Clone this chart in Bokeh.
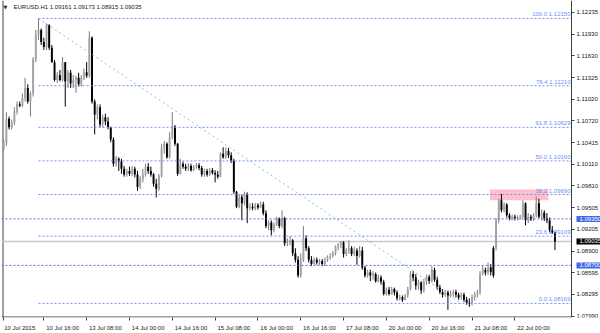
from bokeh.plotting import figure
from bokeh.models import Range1d, FixedTicker, Label, LinearAxis, PrintfTickFormatter
from bokeh.embed import file_html
from bokeh.resources import INLINE

symbol_title = "EURUSD.H1  1.09161 1.09173 1.08915 1.09035"

opens = [
1.1034, 1.1041, 1.1075, 1.1063, 1.1069, 1.1085, 1.1095, 1.1093, 1.1104, 1.1118,
1.1099, 1.1110, 1.1158, 1.1192, 1.1199, 1.1182, 1.1175, 1.1206, 1.1174, 1.1154,
1.1129, 1.1136, 1.1129, 1.1154, 1.1127, 1.1139, 1.1124, 1.1129, 1.1132, 1.1123,
1.1132, 1.1140, 1.1135, 1.1188, 1.1099, 1.1081, 1.1091, 1.1067, 1.1077, 1.1071,
1.1063, 1.1046, 1.1012, 1.1019, 1.1015, 1.1005, 1.0997, 1.1002, 1.0998, 1.1005,
1.0997, 1.0980, 1.0991, 1.0997, 1.1008, 1.1002, 1.0997, 1.0984, 1.0977, 1.0995,
1.1033, 1.1040, 1.1021, 1.1049, 1.1064, 1.1040, 1.0998, 1.1012, 1.1008, 1.1005,
1.1009, 1.1003, 1.1008, 1.1010, 1.1006, 1.0997, 1.1002, 1.0997, 1.1003, 1.0999,
1.0997, 1.0994, 1.1026, 1.1021, 1.1030, 1.1024, 1.1016, 1.0973, 1.0952, 1.0966,
1.0957, 1.0970, 1.0950, 1.0952, 1.0950, 1.0954, 1.0951, 1.0955, 1.0943, 1.0925,
1.0930, 1.0919, 1.0927, 1.0936, 1.0925, 1.0936, 1.0901, 1.0902, 1.0905, 1.0887,
1.0878, 1.0856, 1.0878, 1.0908, 1.0894, 1.0878, 1.0872, 1.0878, 1.0874, 1.0876,
1.0872, 1.0878, 1.0882, 1.0883, 1.0887, 1.0896, 1.0900, 1.0902, 1.0886, 1.0891,
1.0894, 1.0886, 1.0891, 1.0883, 1.0891, 1.0867, 1.0856, 1.0860, 1.0856, 1.0858,
1.0848, 1.0853, 1.0847, 1.0830, 1.0836, 1.0830, 1.0837, 1.0832, 1.0824, 1.0826,
1.0822, 1.0828, 1.0837, 1.0858, 1.0853, 1.0842, 1.0846, 1.0835, 1.0847, 1.0854,
1.0848, 1.0864, 1.0850, 1.0839, 1.0833, 1.0829, 1.0832, 1.0828, 1.0830, 1.0833,
1.0829, 1.0825, 1.0829, 1.0822, 1.0818, 1.0817, 1.0825, 1.0830, 1.0832, 1.0858,
1.0864, 1.0860, 1.0867, 1.0894, 1.0894, 1.0933, 1.0961, 1.0947, 1.0955, 1.0940,
1.0936, 1.0938, 1.0936, 1.0937, 1.0938, 1.0957, 1.0933, 1.0938, 1.0934, 1.0940,
1.0957, 1.0938, 1.0944, 1.0936, 1.0933, 1.0919, 1.09161]

highs = [
1.1046, 1.1084, 1.1078, 1.1074, 1.1091, 1.1099, 1.1099, 1.1110, 1.1132, 1.1123,
1.1113, 1.1161, 1.1199, 1.1215, 1.1201, 1.1188, 1.1208, 1.1207, 1.1178, 1.1157,
1.1140, 1.1143, 1.1161, 1.1154, 1.1143, 1.1143, 1.1136, 1.1135, 1.1139, 1.1136,
1.1145, 1.1154, 1.1197, 1.1190, 1.1102, 1.1095, 1.1095, 1.1081, 1.1082, 1.1077,
1.1064, 1.1049, 1.1023, 1.1021, 1.1019, 1.1009, 1.1005, 1.1008, 1.1009, 1.1008,
1.1002, 1.0995, 1.1005, 1.1012, 1.1013, 1.1008, 1.0999, 1.0991, 1.0998, 1.1040,
1.1044, 1.1042, 1.1056, 1.1084, 1.1066, 1.1041, 1.1019, 1.1015, 1.1012, 1.1013,
1.1012, 1.1010, 1.1013, 1.1013, 1.1009, 1.1005, 1.1005, 1.1006, 1.1006, 1.1003,
1.1002, 1.1028, 1.1035, 1.1035, 1.1034, 1.1028, 1.1019, 1.0974, 1.0969, 1.0969,
1.0973, 1.0972, 1.0957, 1.0957, 1.0957, 1.0957, 1.0959, 1.0959, 1.0947, 1.0933,
1.0933, 1.0930, 1.0938, 1.0937, 1.0947, 1.0938, 1.0908, 1.0911, 1.0907, 1.0894,
1.0883, 1.0887, 1.0925, 1.0912, 1.0897, 1.0883, 1.0881, 1.0881, 1.0879, 1.0879,
1.0881, 1.0884, 1.0887, 1.0890, 1.0898, 1.0901, 1.0904, 1.0904, 1.0894, 1.0905,
1.0897, 1.0896, 1.0894, 1.0897, 1.0896, 1.0869, 1.0864, 1.0864, 1.0862, 1.0860,
1.0857, 1.0856, 1.0850, 1.0839, 1.0840, 1.0840, 1.0839, 1.0835, 1.0829, 1.0828,
1.0830, 1.0840, 1.0862, 1.0862, 1.0858, 1.0850, 1.0848, 1.0851, 1.0857, 1.0857,
1.0869, 1.0867, 1.0854, 1.0843, 1.0837, 1.0836, 1.0835, 1.0835, 1.0836, 1.0836,
1.0832, 1.0832, 1.0832, 1.0826, 1.0824, 1.0829, 1.0833, 1.0836, 1.0862, 1.0869,
1.0867, 1.0874, 1.0872, 1.0897, 1.0936, 1.0963, 1.0970, 1.0958, 1.0957, 1.0943,
1.0941, 1.0941, 1.0940, 1.0941, 1.0961, 1.0958, 1.0943, 1.0941, 1.0943, 1.0966,
1.0963, 1.0948, 1.0947, 1.0943, 1.0937, 1.0925, 1.09173]

lows = [
1.1030, 1.1037, 1.1060, 1.1060, 1.1066, 1.1081, 1.1091, 1.1091, 1.1099, 1.1096,
1.1078, 1.1106, 1.1154, 1.1185, 1.1178, 1.1171, 1.1171, 1.1171, 1.1153, 1.1127,
1.1125, 1.1127, 1.1127, 1.1092, 1.1118, 1.1118, 1.1118, 1.1111, 1.1120, 1.1120,
1.1129, 1.1132, 1.1132, 1.1096, 1.1053, 1.1074, 1.1063, 1.1063, 1.1066, 1.1060,
1.1042, 1.1008, 1.1008, 1.1002, 1.0998, 1.0994, 1.0994, 1.0995, 1.0995, 1.0993,
1.0974, 1.0977, 1.0986, 1.0994, 1.0998, 1.0994, 1.0980, 1.0965, 1.0974, 1.0993,
1.1026, 1.1019, 1.1019, 1.1046, 1.1037, 1.0995, 1.0997, 1.1005, 1.1002, 1.1002,
1.1001, 1.1002, 1.1005, 1.1003, 1.0994, 1.0994, 1.0994, 1.0995, 1.0997, 1.0986,
1.0991, 1.0993, 1.1019, 1.1019, 1.1020, 1.1013, 1.0970, 1.0950, 1.0950, 1.0933,
1.0954, 1.0929, 1.0947, 1.0947, 1.0947, 1.0948, 1.0950, 1.0940, 1.0922, 1.0919,
1.0912, 1.0916, 1.0925, 1.0922, 1.0922, 1.0897, 1.0897, 1.0898, 1.0883, 1.0874,
1.0853, 1.0853, 1.0875, 1.0890, 1.0874, 1.0869, 1.0871, 1.0871, 1.0871, 1.0869,
1.0869, 1.0875, 1.0878, 1.0881, 1.0884, 1.0891, 1.0894, 1.0881, 1.0883, 1.0886,
1.0883, 1.0883, 1.0871, 1.0881, 1.0864, 1.0853, 1.0853, 1.0848, 1.0850, 1.0846,
1.0846, 1.0843, 1.0828, 1.0828, 1.0828, 1.0829, 1.0828, 1.0821, 1.0821, 1.0819,
1.0821, 1.0825, 1.0835, 1.0848, 1.0836, 1.0836, 1.0830, 1.0832, 1.0843, 1.0844,
1.0846, 1.0847, 1.0836, 1.0830, 1.0825, 1.0826, 1.0808, 1.0825, 1.0826, 1.0825,
1.0822, 1.0822, 1.0819, 1.0815, 1.0812, 1.0814, 1.0821, 1.0825, 1.0829, 1.0856,
1.0856, 1.0857, 1.0856, 1.0853, 1.0891, 1.0929, 1.0944, 1.0944, 1.0937, 1.0933,
1.0933, 1.0933, 1.0933, 1.0934, 1.0936, 1.0926, 1.0929, 1.0932, 1.0932, 1.0937,
1.0936, 1.0933, 1.0932, 1.0929, 1.0916, 1.0914, 1.08915]

closes = [
1.1041, 1.1075, 1.1063, 1.1069, 1.1085, 1.1095, 1.1093, 1.1104, 1.1118, 1.1099,
1.1110, 1.1158, 1.1192, 1.1199, 1.1182, 1.1175, 1.1206, 1.1174, 1.1154, 1.1129,
1.1136, 1.1129, 1.1154, 1.1127, 1.1139, 1.1124, 1.1129, 1.1132, 1.1123, 1.1132,
1.1140, 1.1135, 1.1188, 1.1099, 1.1081, 1.1091, 1.1067, 1.1077, 1.1071, 1.1063,
1.1046, 1.1012, 1.1019, 1.1015, 1.1005, 1.0997, 1.1002, 1.0998, 1.1005, 1.0997,
1.0980, 1.0991, 1.0997, 1.1008, 1.1002, 1.0997, 1.0984, 1.0977, 1.0995, 1.1033,
1.1040, 1.1021, 1.1049, 1.1064, 1.1040, 1.0998, 1.1012, 1.1008, 1.1005, 1.1009,
1.1003, 1.1008, 1.1010, 1.1006, 1.0997, 1.1002, 1.0997, 1.1003, 1.0999, 1.0997,
1.0994, 1.1026, 1.1021, 1.1030, 1.1024, 1.1016, 1.0973, 1.0952, 1.0966, 1.0957,
1.0970, 1.0950, 1.0952, 1.0950, 1.0954, 1.0951, 1.0955, 1.0943, 1.0925, 1.0930,
1.0919, 1.0927, 1.0936, 1.0925, 1.0936, 1.0901, 1.0902, 1.0905, 1.0887, 1.0878,
1.0856, 1.0878, 1.0908, 1.0894, 1.0878, 1.0872, 1.0878, 1.0874, 1.0876, 1.0872,
1.0878, 1.0882, 1.0883, 1.0887, 1.0896, 1.0900, 1.0902, 1.0886, 1.0891, 1.0894,
1.0886, 1.0891, 1.0883, 1.0891, 1.0867, 1.0856, 1.0860, 1.0856, 1.0858, 1.0848,
1.0853, 1.0847, 1.0830, 1.0836, 1.0830, 1.0837, 1.0832, 1.0824, 1.0826, 1.0822,
1.0828, 1.0837, 1.0858, 1.0853, 1.0842, 1.0846, 1.0835, 1.0847, 1.0854, 1.0848,
1.0864, 1.0850, 1.0839, 1.0833, 1.0829, 1.0832, 1.0828, 1.0830, 1.0833, 1.0829,
1.0825, 1.0829, 1.0822, 1.0818, 1.0817, 1.0825, 1.0830, 1.0832, 1.0858, 1.0864,
1.0860, 1.0867, 1.0861, 1.0856, 1.0933, 1.0961, 1.0947, 1.0955, 1.0940, 1.0936,
1.0938, 1.0936, 1.0937, 1.0938, 1.0957, 1.0933, 1.0938, 1.0934, 1.0940, 1.0957,
1.0938, 1.0944, 1.0936, 1.0933, 1.0919, 1.0916, 1.09035]

time_tick_bars = [0, 15, 31, 47, 63, 79, 95, 111, 127, 143, 159, 175, 191]
time_tick_labels = ["10 Jul 2015", "10 Jul 16:00", "13 Jul 08:00", "14 Jul 00:00",
                    "14 Jul 16:00", "15 Jul 08:00", "16 Jul 00:00", "16 Jul 16:00",
                    "17 Jul 08:00", "20 Jul 00:00", "20 Jul 16:00", "21 Jul 08:00",
                    "22 Jul 00:00"]
price_ticks = [1.12235, 1.11930, 1.11630, 1.11325, 1.11020, 1.10720, 1.10415, 1.10110,
               1.09810, 1.09505, 1.09205, 1.08900, 1.08595, 1.08295, 1.07990]

fib_levels = ["0.0", "23.6", "38.2", "50.0", "61.8", "76.4", "100.0"]
fib_prices = [1.08169, 1.09109, 1.09690, 1.10160, 1.10629, 1.11210, 1.12150]
fib_start_bar = 13
fib_end_bar = 171

hline_prices = [1.09350, 1.08700]
bid_price = 1.09035

zone_bars = [181.7, 203.6]
zone_prices = [1.0961, 1.0976]

# ---------------- layout constants (pixels -> data) ----------------
PX_BAR = 2.676          # pixels per bar
BAR0_PX = 3.2           # pixel of bar 0
FRAME_H = 320           # frame height in px (top at 0)
PRICE_TOP = 1.12401     # price at frame top
PX_PRICE = 0.0001384    # price per pixel


def bx(px):
    return (px - BAR0_PX) / PX_BAR


def py(px):
    return PRICE_TOP - PX_PRICE * px


X0, X1 = bx(1), bx(600)
XA = bx(571)                 # price-axis position
Y0, Y1 = py(FRAME_H), py(0)
FONT = "Liberation Sans"
FS = "6px"
AXIS_COL = "#404040"

n = len(closes)
bars = list(range(n))
bull = [c >= o for o, c in zip(opens, closes)]
body_top = [max(o, c) for o, c in zip(opens, closes)]
body_bot = [min(o, c) for o, c in zip(opens, closes)]
body_col = ["#a3a3a3" if b else "#000000" for b in bull]
wick_col = ["#7a7a7a" if b else "#000000" for b in bull]

p = figure(width=600, height=333, output_backend="svg", toolbar_location=None,
           x_range=Range1d(X0, X1), y_range=Range1d(Y0, Y1),
           x_axis_location=None, y_axis_location=None,
           min_border_left=1, min_border_right=0, min_border_top=0, min_border_bottom=13)
p.grid.visible = False
p.background_fill_color = "white"
p.border_fill_color = "white"
p.outline_line_color = None

# time axis: label centred a few bars right of its tick so the text starts at the tick
label_pos = [b + 7 for b in time_tick_bars]
label_pos[0] = 6
xaxis = LinearAxis(ticker=FixedTicker(ticks=label_pos, minor_ticks=time_tick_bars),
                   major_label_overrides={lp: lab for lp, lab in zip(label_pos, time_tick_labels)})
xaxis.major_tick_line_color = None
xaxis.major_tick_in = 0
xaxis.major_tick_out = 0
xaxis.minor_tick_in = 0
xaxis.minor_tick_out = 3
xaxis.minor_tick_line_color = AXIS_COL
xaxis.axis_line_color = None
xaxis.major_label_standoff = 4
xaxis.major_label_text_font = FONT
xaxis.major_label_text_font_size = FS
xaxis.major_label_text_color = "#202020"
p.add_layout(xaxis, "below")

# price axis fixed at the right edge of the chart area
yaxis = LinearAxis(ticker=FixedTicker(ticks=price_ticks), fixed_location=XA,
                   formatter=PrintfTickFormatter(format="%.5f"))
yaxis.major_tick_in = 0
yaxis.major_tick_out = 3
yaxis.minor_tick_out = 0
yaxis.minor_tick_in = 0
yaxis.major_tick_line_color = AXIS_COL
yaxis.axis_line_color = AXIS_COL
yaxis.major_label_standoff = 2
yaxis.major_label_text_font = FONT
yaxis.major_label_text_font_size = FS
yaxis.major_label_text_color = "#202020"
p.add_layout(yaxis, "right")

# chart borders (left and bottom)
p.segment(x0=[bx(2.5), X0], y0=[Y0, py(319.5)], x1=[bx(2.5), XA], y1=[Y1, py(319.5)],
          line_color=AXIS_COL, line_width=1)

# background zone
p.quad(left=[zone_bars[0]], right=[zone_bars[1]], bottom=[zone_prices[0]], top=[zone_prices[1]],
       fill_color="#ffc0cb", line_color=None)

# bid line
p.segment(x0=[X0], y0=[bid_price], x1=[XA], y1=[bid_price], line_color="#c8c8c8", line_width=1.5)

# candles
p.segment(x0=bars, y0=lows, x1=bars, y1=highs, line_color=wick_col, line_width=1)
p.vbar(x=bars, width=0.72, top=body_top, bottom=body_bot, fill_color=body_col, line_color=None)

# horizontal lines
p.segment(x0=[X0] * len(hline_prices), y0=hline_prices, x1=[XA] * len(hline_prices), y1=hline_prices,
          line_color="#4a6ee8", line_width=1, line_dash="2 2")

# fibonacci
p.segment(x0=[fib_start_bar] * len(fib_prices), y0=fib_prices,
          x1=[XA] * len(fib_prices), y1=fib_prices,
          line_color="#6f8ff5", line_width=1, line_dash="2 2")
p.line(x=[fib_start_bar, fib_end_bar], y=[fib_prices[-1], fib_prices[0]],
       line_color="#9db3f7", line_width=1, line_dash="2 3")
for lvl, fp in zip(fib_levels, fib_prices):
    p.add_layout(Label(x=XA, y=fp, x_offset=-1, y_offset=1, text=f"{lvl} {fp:.5f}",
                       text_align="right", text_baseline="bottom",
                       text_color="#6f8ff5", text_font=FONT, text_font_size=FS))

# title
p.add_layout(Label(x=bx(5), y=py(6.5), text="\u25bc", text_align="center", text_baseline="middle",
                   text_color="#202020", text_font="DejaVu Sans", text_font_size="5px"))
p.add_layout(Label(x=bx(13), y=py(6.5), text=symbol_title, text_align="left", text_baseline="middle",
                   text_color="#202020", text_font=FONT, text_font_size=FS))

# price boxes on the axis
for hp, bg in [(hline_prices[0], "#4169e1"), (hline_prices[1], "#4169e1"), (bid_price, "#000000")]:
    p.add_layout(Label(x=XA, y=hp, x_offset=5, text=f"{hp:.5f}", text_align="left",
                       text_baseline="middle", text_color="white", background_fill_color=bg,
                       text_font=FONT, text_font_size=FS,
                       padding={"left": 3, "right": 6, "top": 1, "bottom": 1}))

open("out.html", "w").write(file_html(p, INLINE))
